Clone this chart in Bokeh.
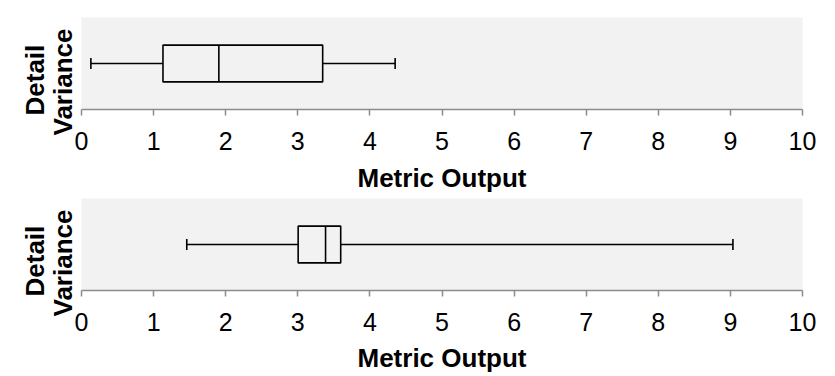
from bokeh.plotting import figure
from bokeh.layouts import column
from bokeh.models import FactorRange, FixedTicker, Range1d, Title
from bokeh.embed import file_html
from bokeh.resources import INLINE

category = ["Detail Variance"]
x_ticks = [0, 1, 2, 3, 4, 5, 6, 7, 8, 9, 10]
x_title = "Metric Output"
y_title_lines = ["Detail", "Variance"]

# panel 1 box statistics
top_low = [0.13]
top_q1 = [1.13]
top_median = [1.905]
top_q3 = [3.345]
top_high = [4.35]

# panel 2 box statistics
bottom_low = [1.46]
bottom_q1 = [3.005]
bottom_median = [3.385]
bottom_q3 = [3.595]
bottom_high = [9.035]

FONT = "Liberation Sans"
BG = "#f2f2f2"
AXIS_GREY = "#8c8c8c"


def panel(low, q1, med, q3, high, height, border_top, border_bottom, label_standoff):
    p = figure(width=827, height=height, output_backend="svg", toolbar_location=None,
               x_range=Range1d(0, 10), y_range=FactorRange(factors=category),
               min_border_left=81, min_border_right=25, min_border_top=border_top,
               min_border_bottom=border_bottom, background_fill_color=BG,
               border_fill_color="white", outline_line_color=None)
    p.xgrid.visible = False
    p.ygrid.visible = False
    p.yaxis.visible = False

    ax = p.xaxis[0]
    ax.ticker = FixedTicker(ticks=x_ticks)
    ax.axis_line_color = AXIS_GREY
    ax.axis_line_width = 1.5
    ax.major_tick_line_color = AXIS_GREY
    ax.major_tick_line_width = 1.5
    ax.major_tick_out = 6
    ax.major_tick_in = 0
    ax.minor_tick_line_color = None
    ax.major_label_text_font = FONT
    ax.major_label_text_font_size = "25px"
    ax.major_label_text_color = "black"
    ax.major_label_standoff = 16
    ax.axis_label = x_title
    ax.axis_label_text_font = FONT
    ax.axis_label_text_font_size = "26px"
    ax.axis_label_text_font_style = "bold"
    ax.axis_label_text_color = "black"
    ax.axis_label_standoff = label_standoff

    lw = 1.6
    # whiskers
    p.segment(x0=low, y0=category, x1=q1, y1=category, line_color="black", line_width=lw)
    p.segment(x0=q3, y0=category, x1=high, y1=category, line_color="black", line_width=lw)
    # caps
    p.hbar(y=category, left=low, right=low, height=0.12, fill_color=None,
           line_color="black", line_width=lw)
    p.hbar(y=category, left=high, right=high, height=0.12, fill_color=None,
           line_color="black", line_width=lw)
    # box
    p.hbar(y=category, left=q1, right=q3, height=0.4, fill_color=None,
           line_color="black", line_width=lw)
    # median
    p.hbar(y=category, left=med, right=med, height=0.4, fill_color=None,
           line_color="black", line_width=lw)

    # two-line y title, nearest line first
    for text, off, so in ((y_title_lines[1], -26, 8), (y_title_lines[0], -6, -16)):
        t = Title(text=text, align="left", offset=off, standoff=so,
                  text_font=FONT, text_font_size="26px", text_font_style="bold",
                  text_color="black", vertical_align="bottom")
        p.add_layout(t, "left")
    return p


p1 = panel(top_low, top_q1, top_median, top_q3, top_high, 196, 17, 87, 10)
p2 = panel(bottom_low, bottom_q1, bottom_median, bottom_q3, bottom_high, 180, 2, 86, 9)

layout = column(p1, p2, spacing=0)
open("out.html", "w").write(file_html(layout, INLINE))
